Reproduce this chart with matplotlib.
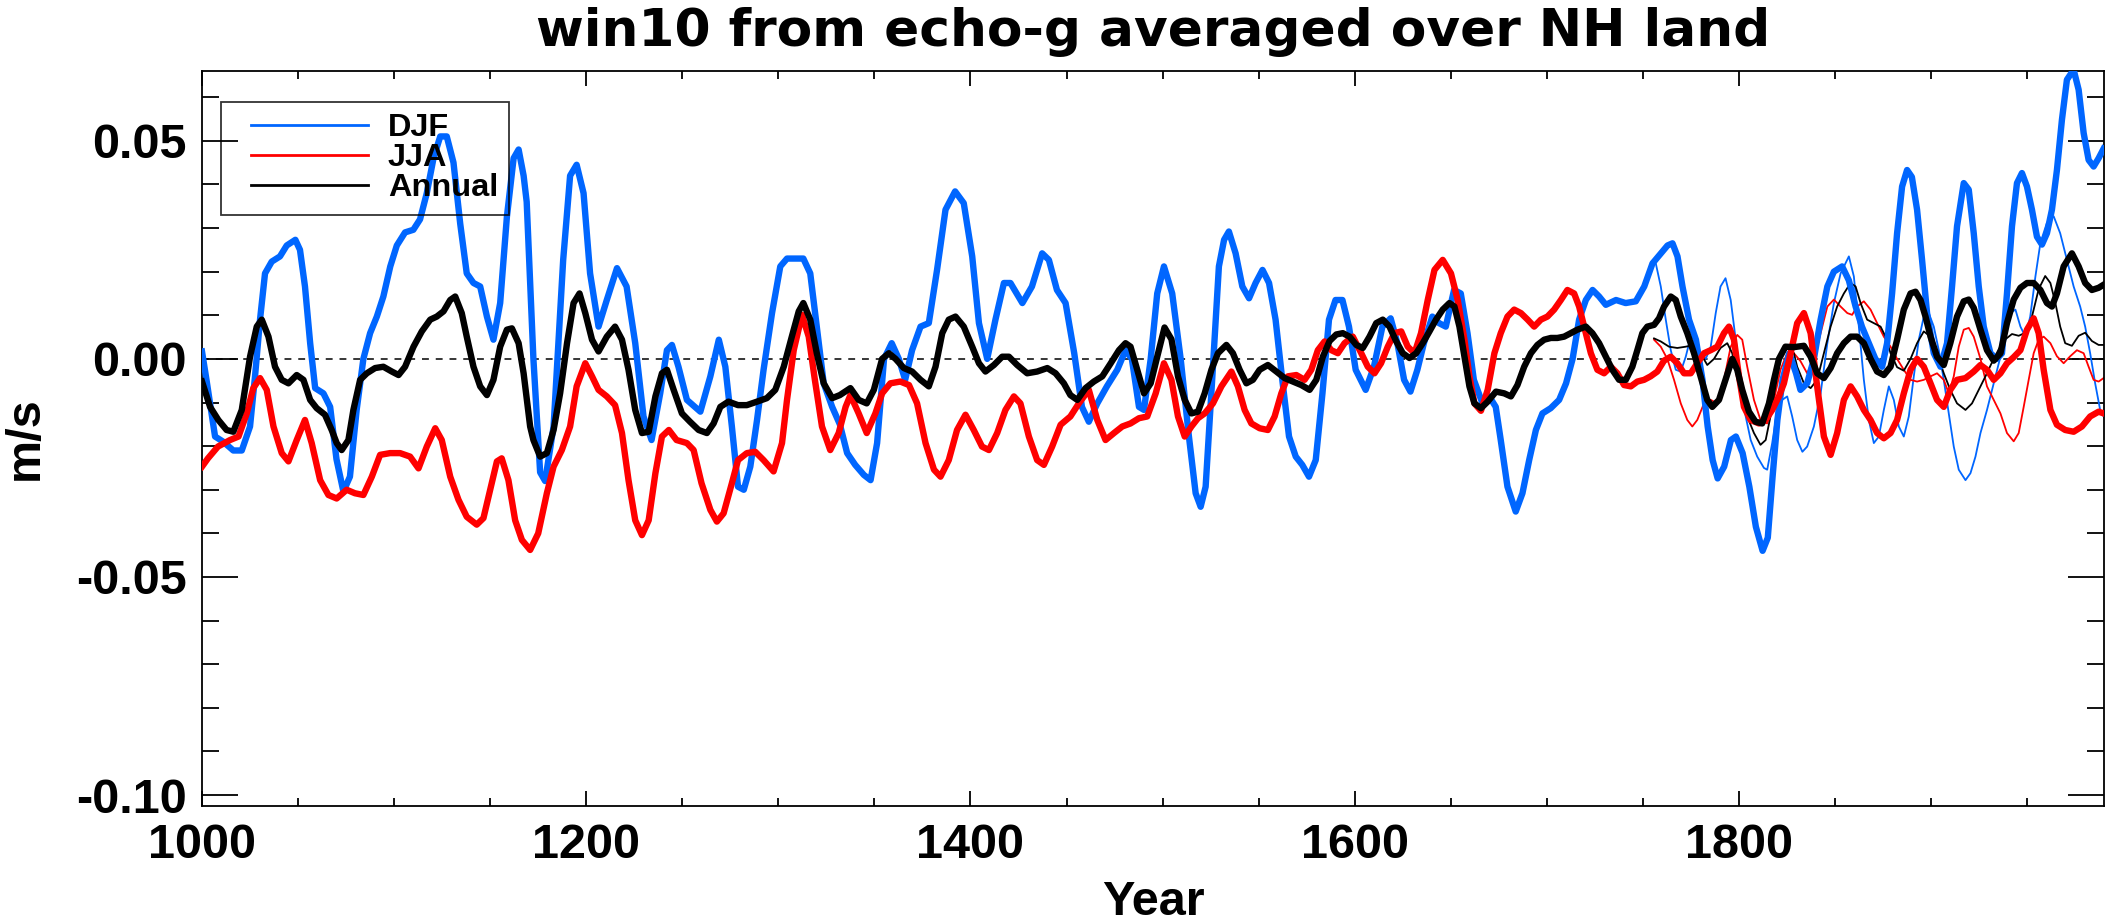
import matplotlib
matplotlib.use("Agg")
import matplotlib.pyplot as plt
from matplotlib.lines import Line2D
from matplotlib.legend_handler import HandlerLine2D
from matplotlib.ticker import MultipleLocator, FormatStrFormatter

plt.rcParams['axes.unicode_minus'] = False

# ---------------- data ----------------
djf_years = [1000, 1002.4, 1006.8, 1011.1, 1016.3, 1020.7, 1025, 1027.6, 1030.2, 1032.8, 1036.3, 1040.6, 1044.1,
             1048.6, 1051, 1053.6, 1056.3, 1058.9, 1063.2, 1066.7, 1070, 1073.6, 1077, 1080.5, 1084, 1087.5, 1091,
             1094.4, 1098, 1101.4, 1105.7, 1110, 1113.5, 1117, 1120.5, 1124, 1127.4, 1130.9, 1134.4, 1137.8, 1141.3,
             1144.8, 1148.3, 1151.7, 1155.2, 1158.7, 1162.2, 1164.8, 1167.4, 1169, 1172.5, 1176, 1178.6, 1183, 1188,
             1191.6, 1195, 1198.6, 1202, 1206.4, 1210.7, 1216, 1221, 1225.5, 1229.8, 1234, 1238.5, 1242, 1244.6,
             1248, 1252.4, 1259.4, 1264.6, 1269, 1272.4, 1275.8, 1279, 1282, 1285.4, 1288.9, 1292.3, 1296.7, 1301,
             1304.5, 1309.7, 1313, 1316.6, 1320, 1323.6, 1328, 1332, 1335.8, 1340, 1344.5, 1348, 1351.4, 1355, 1359,
             1362.7, 1366, 1369.6, 1374, 1378.3, 1382.6, 1387, 1392, 1396.5, 1400.9, 1404.4, 1408.7, 1413, 1417.4,
             1420.8, 1427, 1432, 1437.3, 1440.8, 1445, 1449.5, 1454, 1458, 1461.6, 1466, 1471, 1476.4, 1480.7, 1484,
             1487.7, 1490.3, 1493.8, 1497.2, 1500.7, 1505, 1509.4, 1513.7, 1517.2, 1519.8, 1522.4, 1525.9, 1529.3,
             1532, 1534.5, 1538, 1541.5, 1545, 1548.4, 1552, 1555.4, 1558.8, 1562.3, 1565.8, 1569.3, 1572.7, 1576.2,
             1579.7, 1583.2, 1586.6, 1590, 1593.6, 1597, 1600.5, 1605.7, 1610, 1614.4, 1618.7, 1622.2, 1625.7, 1629,
             1632.6, 1636, 1640.4, 1643.9, 1647.4, 1651.7, 1655.2, 1658.7, 1662, 1666.5, 1670, 1673.4, 1676, 1679.5,
             1683.8, 1687.3, 1690.8, 1694.3, 1697.7, 1702, 1706.4, 1710, 1713.4, 1716.8, 1720.3, 1723.8, 1727.2,
             1730.7, 1736, 1741, 1746.3, 1750.7, 1755, 1759.4, 1762.8, 1765.4, 1768, 1770.6, 1774, 1777.6, 1781,
             1783.7, 1786.3, 1788.9, 1792.3, 1795.8, 1798.4, 1801.9, 1805.4, 1808.8, 1812.3, 1815, 1817.5, 1820,
             1822.7, 1826.2, 1829.7, 1832, 1835.5, 1839, 1842.5, 1846, 1849.4, 1853.7, 1857.2, 1860.7, 1864, 1867.6,
             1871, 1874.5, 1877.1, 1879.7, 1882.3, 1884.9, 1887.5, 1890, 1892.7, 1895.3, 1897.9, 1901.4, 1904.9,
             1908.3, 1910.9, 1913.5, 1917, 1919.6, 1922.2, 1924.8, 1927.4, 1930.9, 1934.3, 1936.9, 1939.5, 1942.1,
             1944.7, 1947.3, 1949.9, 1952.5, 1955.1, 1957.7, 1960.3, 1962.9, 1965.5, 1968.1, 1970.7, 1974.2, 1976.8,
             1979.4, 1982, 1984.6, 1987.2, 1989.8]
djf_vals = [0.0017, -0.005, -0.0178, -0.019, -0.021, -0.021, -0.0155, -0.004, 0.009, 0.0196, 0.0223, 0.0235, 0.026,
            0.0273, 0.025, 0.0166, 0.0036, -0.0067, -0.0079, -0.011, -0.023, -0.0304, -0.027, -0.0117, 0.0, 0.0059,
            0.0097, 0.0143, 0.0212, 0.026, 0.029, 0.0296, 0.032, 0.038, 0.046, 0.051, 0.051, 0.045, 0.031, 0.0196,
            0.0174, 0.0166, 0.0097, 0.0044, 0.0128, 0.0326, 0.046, 0.048, 0.042, 0.036, 0.0, -0.026, -0.028, -0.0155,
            0.0227, 0.042, 0.0445, 0.038, 0.0196, 0.0074, 0.0135, 0.0208, 0.0166, 0.0036, -0.0132, -0.0186, -0.0079,
            0.002, 0.0032, -0.0018, -0.0094, -0.0121, -0.004, 0.0044, -0.0018, -0.0155, -0.0293, -0.030, -0.0247,
            -0.014, -0.0025, 0.0105, 0.0212, 0.023, 0.023, 0.023, 0.0196, 0.0074, -0.0056, -0.011, -0.015, -0.0216,
            -0.0243, -0.0266, -0.0278, -0.0193, 0.0, 0.0036, 0.0, -0.0048, 0.002, 0.0074, 0.0082, 0.0204, 0.0342,
            0.0384, 0.0357, 0.0235, 0.0082, 0.0, 0.009, 0.0174, 0.0174, 0.0128, 0.0166, 0.0242, 0.0227, 0.0158,
            0.0128, 0.0013, -0.011, -0.0144, -0.0102, -0.0063, -0.0025, 0.002, 0.0, -0.011, -0.0117, 0.0, 0.015,
            0.0212, 0.015, 0.0, -0.0178, -0.0308, -0.0339, -0.0293, -0.004, 0.0212, 0.0273, 0.0292, 0.0242, 0.0166,
            0.0139, 0.0174, 0.0204, 0.0174, 0.009, -0.0048, -0.0178, -0.0224, -0.0243, -0.027, -0.0232, -0.0079,
            0.009, 0.0135, 0.0135, 0.0074, -0.0025, -0.0071, -0.0018, 0.0074, 0.0093, 0.0036, -0.0048, -0.0075,
            -0.0025, 0.0036, 0.0097, 0.0082, 0.0074, 0.0158, 0.015, 0.0059, -0.0048, -0.0102, -0.0086, -0.011,
            -0.0186, -0.0293, -0.035, -0.0308, -0.0232, -0.0163, -0.0125, -0.0113, -0.0094, -0.0056, 0.0, 0.009,
            0.0135, 0.0158, 0.0143, 0.0124, 0.0135, 0.0128, 0.0132, 0.0166, 0.0219, 0.0242, 0.026, 0.0265, 0.0235,
            0.0166, 0.009, 0.0044, -0.0048, -0.0155, -0.0232, -0.0274, -0.0247, -0.0186, -0.0178, -0.0216, -0.0293,
            -0.0385, -0.044, -0.041, -0.027, -0.014, -0.0048, 0.0013, -0.0033, -0.0071, -0.0056, 0.0, 0.009, 0.0166,
            0.02, 0.0212, 0.018, 0.012, 0.0074, 0.0036, 0.0, -0.0018, 0.0036, 0.015, 0.0288, 0.0395, 0.0433, 0.0417,
            0.0342, 0.0227, 0.0105, 0.0013, -0.0018, 0.0036, 0.0166, 0.0304, 0.0403, 0.0388, 0.0288, 0.0166, 0.0074,
            0.0013, 0.0, 0.0013, 0.015, 0.0304, 0.0403, 0.0426, 0.0395, 0.0342, 0.028, 0.0262, 0.0288, 0.0342,
            0.0433, 0.0548, 0.064, 0.0663, 0.0617, 0.0518, 0.0456, 0.0441, 0.046, 0.0482]

jja_years = [1000, 1003.1, 1008.3, 1014.6, 1019, 1023.3, 1026.7, 1030.2, 1033.7, 1037.2, 1041.5, 1045, 1049.3,
             1053.6, 1057.1, 1061.5, 1065.8, 1070.1, 1075.3, 1079.6, 1084, 1088.4, 1092.7, 1097.9, 1103.1, 1108.3,
             1112.7, 1117, 1121.4, 1124.8, 1129.2, 1133.5, 1137.8, 1143, 1146.5, 1150, 1153.5, 1156, 1159.5, 1163,
             1166.5, 1170.8, 1175, 1179.5, 1183, 1187.3, 1191.6, 1195, 1199.5, 1203, 1206.4, 1210.7, 1215, 1218.6,
             1222, 1225.5, 1229, 1232.5, 1236, 1239.4, 1243, 1247, 1252.4, 1255.9, 1260, 1264.6, 1268, 1271.5,
             1275.8, 1279, 1283.6, 1288, 1292.3, 1297.5, 1301.9, 1304.5, 1308, 1312.3, 1315.8, 1319, 1322.7, 1327,
             1331.4, 1335, 1337.5, 1341.8, 1346, 1350.5, 1354, 1358.3, 1363.5, 1368, 1372.2, 1376.6, 1381, 1384.4,
             1388.7, 1393, 1397.4, 1401.7, 1406, 1409.6, 1413.9, 1418.2, 1422.6, 1426, 1430.4, 1434.7, 1438.2,
             1442.5, 1446.9, 1452, 1456.4, 1461.6, 1466, 1470.3, 1474.7, 1479, 1483.3, 1487.7, 1492, 1496.4, 1500.7,
             1504.6, 1508, 1511.5, 1515, 1518.4, 1521.9, 1526.2, 1530.6, 1535.8, 1539.2, 1542.7, 1546.2, 1550.5,
             1554.8, 1558.3, 1561.8, 1565.2, 1569.6, 1573.9, 1577.4, 1580.8, 1584.3, 1587.8, 1591.2, 1594.7, 1599,
             1603.4, 1606.8, 1610.3, 1613.7, 1617.2, 1620.7, 1624.2, 1627.6, 1631.1, 1634.5, 1638, 1641.5, 1645.8,
             1650.1, 1653.6, 1657.1, 1659.7, 1662.3, 1665.7, 1669.2, 1672.7, 1676, 1679.5, 1683, 1686.5, 1690,
             1693.4, 1696.9, 1700.3, 1703.8, 1707.3, 1710.7, 1714.2, 1716.8, 1719.4, 1722.9, 1726.3, 1729.8, 1733.3,
             1736.7, 1740.2, 1743.7, 1747.1, 1750.6, 1754, 1757.5, 1761, 1764.5, 1767.9, 1771.4, 1774.9, 1778.3,
             1781.8, 1785.3, 1788.7, 1792.2, 1794.8, 1797.4, 1800, 1802.6, 1806, 1810.4, 1813.9, 1817.3, 1820.8,
             1823.4, 1826.9, 1830.3, 1833.8, 1837.3, 1840.7, 1844.2, 1847.7, 1851.1, 1854.6, 1858.1, 1861.5, 1865,
             1868.5, 1871.9, 1875.4, 1878.9, 1882.3, 1885.8, 1889.3, 1892.7, 1896.2, 1899.7, 1903.1, 1906.6, 1910,
             1913.5, 1917.9, 1922.2, 1925.7, 1929.1, 1932.6, 1936.1, 1939.5, 1943, 1946.5, 1949.9, 1953.4, 1956,
             1958.6, 1962.1, 1965.5, 1969.8, 1974.2, 1978.5, 1982.8, 1987.2, 1989.8]
jja_vals = [-0.0247, -0.0228, -0.0201, -0.0186, -0.0178, -0.0125, -0.0067, -0.0044, -0.0071, -0.0155, -0.0216,
            -0.0235, -0.0186, -0.014, -0.0193, -0.0278, -0.0312, -0.032, -0.030, -0.0308, -0.0312, -0.027, -0.022,
            -0.0216, -0.0216, -0.0224, -0.0251, -0.0201, -0.0159, -0.0186, -0.027, -0.0323, -0.0362, -0.038,
            -0.0365, -0.030, -0.0235, -0.0228, -0.0278, -0.037, -0.0415, -0.0438, -0.040, -0.0308, -0.0247, -0.0209,
            -0.0155, -0.0063, -0.001, -0.004, -0.0071, -0.0086, -0.0106, -0.017, -0.0278, -0.037, -0.0404, -0.037,
            -0.0262, -0.0178, -0.0163, -0.0186, -0.0193, -0.0209, -0.0285, -0.0346, -0.0373, -0.0354, -0.0285,
            -0.0232, -0.0216, -0.0213, -0.0232, -0.0258, -0.0193, -0.0094, 0.002, 0.0101, 0.0051, -0.0048, -0.0155,
            -0.0209, -0.017, -0.011, -0.0083, -0.0125, -0.017, -0.0125, -0.0079, -0.0056, -0.0052, -0.006, -0.0102,
            -0.0193, -0.0254, -0.027, -0.0232, -0.0163, -0.0128, -0.0163, -0.0201, -0.0209, -0.017, -0.0117,
            -0.0086, -0.0102, -0.0178, -0.0232, -0.0243, -0.0201, -0.0151, -0.0132, -0.0102, -0.0071, -0.014,
            -0.0186, -0.017, -0.0155, -0.0148, -0.0136, -0.0132, -0.0079, -0.001, -0.0048, -0.0132, -0.0178,
            -0.0155, -0.0136, -0.0125, -0.0102, -0.0063, -0.0029, -0.0063, -0.0117, -0.0148, -0.0159, -0.0163,
            -0.0132, -0.0079, -0.004, -0.0037, -0.0048, -0.0025, 0.002, 0.004, 0.002, 0.0013, 0.0036, 0.0051,
            0.0013, -0.0018, -0.0033, -0.001, 0.0028, 0.0059, 0.0063, 0.0028, 0.0013, 0.0059, 0.0135, 0.0204,
            0.0227, 0.0196, 0.0135, 0.0044, -0.004, -0.0102, -0.0119, -0.0071, 0.0013, 0.0059, 0.0097, 0.0113,
            0.0105, 0.009, 0.0074, 0.009, 0.0097, 0.0113, 0.0135, 0.0158, 0.015, 0.012, 0.0074, 0.0013, -0.0025,
            -0.0033, -0.0018, -0.0033, -0.006, -0.0063, -0.0052, -0.0048, -0.004, -0.0029, -0.0004, 0.0005, -0.001,
            -0.0033, -0.0033, -0.001, 0.0013, 0.002, 0.0028, 0.0059, 0.0074, 0.0044, -0.004, -0.011, -0.014,
            -0.0148, -0.014, -0.0117, -0.0086, -0.0056, 0.0013, 0.0082, 0.0105, 0.0059, -0.0063, -0.0178, -0.022,
            -0.017, -0.0094, -0.0063, -0.0086, -0.0117, -0.014, -0.017, -0.0182, -0.017, -0.014, -0.0079, -0.0025,
            0.0, -0.0018, -0.0056, -0.0094, -0.011, -0.0071, -0.0048, -0.0044, -0.0029, -0.0014, -0.0025, -0.0048,
            -0.0033, -0.001, 0.0004, 0.002, 0.0067, 0.0093, 0.0059, -0.0025, -0.0117, -0.0151, -0.0163, -0.0167,
            -0.0155, -0.0132, -0.0121, -0.0125]

ann_years = [1000, 1004.2, 1008.5, 1012.8, 1016.3, 1020.7, 1025, 1028.5, 1031.1, 1034.6, 1038, 1041.5, 1045,
             1049.3, 1052.8, 1056.3, 1059.7, 1064, 1067.5, 1070.1, 1072.7, 1076.2, 1078.8, 1082.3, 1085.8, 1090.1,
             1094.4, 1098.8, 1102.3, 1105.7, 1110.1, 1114.4, 1118.8, 1122.2, 1125.7, 1129.2, 1131.8, 1135.2, 1137.8,
             1141.3, 1144.8, 1148.3, 1151.7, 1155.2, 1158.7, 1161.3, 1164.8, 1167.4, 1170.8, 1172.5, 1176, 1179.5,
             1183, 1186.4, 1190, 1193.4, 1196.5, 1199.5, 1203, 1206.4, 1210.7, 1215, 1218.6, 1222, 1225.5, 1229,
             1232.5, 1236, 1239.4, 1242, 1245.5, 1249.8, 1254, 1258.5, 1262.8, 1266.3, 1269.8, 1274, 1279, 1283.6,
             1288.9, 1294, 1298.4, 1302.8, 1307, 1310.6, 1313, 1316.6, 1320, 1323.6, 1328, 1332, 1337.5, 1341.8,
             1346, 1349.7, 1354, 1357.5, 1361, 1365.3, 1369.6, 1374, 1378.3, 1381.8, 1385.3, 1388.7, 1392.2, 1396.5,
             1400.9, 1404.4, 1407.8, 1412.2, 1416.5, 1420, 1424.3, 1429.5, 1434.7, 1440, 1444.3, 1448.6, 1452,
             1455.6, 1459.9, 1464.2, 1468.6, 1473, 1477.3, 1480.7, 1483.3, 1486.8, 1490.3, 1493.8, 1497.2, 1501,
             1504.6, 1508, 1511.5, 1515, 1518.4, 1521.9, 1525.4, 1528.8, 1533.2, 1536.6, 1540.1, 1543.6, 1547,
             1550.5, 1554.8, 1559.2, 1563.5, 1567.8, 1572.2, 1576.5, 1580, 1583.4, 1586.9, 1590.4, 1593.8, 1597.3,
             1600.8, 1604.2, 1607.7, 1611.2, 1614.6, 1618.1, 1621.5, 1625, 1628.5, 1632, 1635.4, 1638.9, 1642.3,
             1645.8, 1649.3, 1651.9, 1654.5, 1657.1, 1659.7, 1662.3, 1665.7, 1669.2, 1673.5, 1677.8, 1681.3, 1684.7,
             1688.2, 1691.7, 1695.1, 1698.6, 1702.1, 1705.5, 1709, 1712.5, 1715.9, 1720.3, 1723.7, 1727.2, 1730.7,
             1734.1, 1737.6, 1741.1, 1744.5, 1747.1, 1749.7, 1752.3, 1755.8, 1758.4, 1761, 1764.5, 1767.1, 1769.7,
             1773.1, 1776.6, 1780, 1783.5, 1786.1, 1789.6, 1793, 1796.5, 1799.1, 1801.7, 1805.2, 1808.6, 1812.1,
             1815.6, 1818.2, 1820.8, 1824.2, 1828.6, 1833.8, 1837.3, 1840.7, 1844.2, 1847.7, 1851.1, 1854.6, 1858.1,
             1861.5, 1865, 1868.5, 1871.9, 1875.4, 1878.9, 1882.3, 1885.8, 1889.3, 1891.9, 1894.5, 1897.1, 1899.7,
             1903.1, 1906.6, 1910, 1913.5, 1917, 1919.6, 1922.2, 1925.7, 1929.1, 1932.6, 1936.1, 1939.5, 1943,
             1946.5, 1949.9, 1953.4, 1956.9, 1960.3, 1962.9, 1965.5, 1969, 1973.3, 1976.8, 1980.2, 1983.7, 1987.2,
             1989.8]
ann_vals = [-0.0052, -0.011, -0.014, -0.0163, -0.0167, -0.0117, 0.0005, 0.0074, 0.009, 0.0051, -0.0018, -0.0048,
            -0.0056, -0.0037, -0.0048, -0.0094, -0.0113, -0.0128, -0.0163, -0.0193, -0.0209, -0.0186, -0.0117,
            -0.0048, -0.0033, -0.0021, -0.0018, -0.0029, -0.0037, -0.0018, 0.0028, 0.0063, 0.009, 0.0097, 0.0109,
            0.0135, 0.0143, 0.0105, 0.0051, -0.0018, -0.0063, -0.0083, -0.0048, 0.0028, 0.0067, 0.007, 0.0036,
            -0.0033, -0.0155, -0.0186, -0.0224, -0.0216, -0.0163, -0.0079, 0.0036, 0.0128, 0.015, 0.0105, 0.0044,
            0.0017, 0.0051, 0.0074, 0.0044, -0.0025, -0.0117, -0.017, -0.0167, -0.0086, -0.0033, -0.0025, -0.0071,
            -0.0125, -0.0144, -0.0163, -0.017, -0.0148, -0.011, -0.0098, -0.0106, -0.0106, -0.0098, -0.009, -0.0071,
            -0.0018, 0.0051, 0.0109, 0.0128, 0.009, 0.0013, -0.0056, -0.009, -0.0083, -0.0067, -0.0094, -0.0102,
            -0.0071, 0.0, 0.0013, 0.0, -0.0021, -0.0029, -0.0048, -0.0063, -0.0018, 0.0059, 0.009, 0.0097, 0.0074,
            0.0028, -0.001, -0.0029, -0.0014, 0.0005, 0.0005, -0.0014, -0.0033, -0.0029, -0.0021, -0.0033, -0.0056,
            -0.0083, -0.0094, -0.0067, -0.0052, -0.004, -0.001, 0.002, 0.0036, 0.0028, -0.0025, -0.0079, -0.0056,
            0.0005, 0.0072, 0.0045, -0.004, -0.0094, -0.0125, -0.0121, -0.0079, -0.0025, 0.0013, 0.0032, 0.0013,
            -0.0025, -0.0056, -0.0048, -0.0025, -0.0014, -0.0029, -0.0044, -0.0052, -0.006, -0.0071, -0.0048,
            0.0005, 0.0041, 0.0056, 0.0059, 0.0051, 0.0032, 0.0025, 0.0051, 0.0082, 0.009, 0.0074, 0.0041, 0.0013,
            0.0002, 0.0013, 0.0036, 0.0063, 0.009, 0.0113, 0.0128, 0.012, 0.0074, 0.0005, -0.0063, -0.0102, -0.0113,
            -0.0098, -0.0075, -0.0079, -0.0086, -0.006, -0.0018, 0.0013, 0.0032, 0.0044, 0.0048, 0.0048, 0.0051,
            0.0059, 0.0067, 0.0074, 0.0059, 0.0036, 0.0005, -0.0025, -0.0048, -0.0048, -0.0018, 0.002, 0.0059,
            0.0074, 0.0078, 0.0093, 0.012, 0.0143, 0.0135, 0.0097, 0.0059, 0.0013, -0.004, -0.0094, -0.011, -0.0094,
            -0.0048, 0.0, -0.0025, -0.0071, -0.0121, -0.0144, -0.0148, -0.0102, -0.0048, 0.0, 0.0028, 0.0027, 0.003,
            0.0005, -0.0033, -0.0044, -0.0021, 0.0013, 0.0036, 0.0051, 0.0051, 0.0036, 0.0, -0.0029, -0.0037,
            -0.0018, 0.0044, 0.0113, 0.015, 0.0154, 0.0135, 0.0097, 0.0051, 0.0005, -0.0014, 0.0036, 0.0097, 0.0132,
            0.0136, 0.0117, 0.0067, 0.002, -0.0004, 0.0013, 0.0082, 0.0136, 0.0163, 0.0174, 0.0174, 0.0158, 0.0128,
            0.012, 0.015, 0.0212, 0.0242, 0.0212, 0.0174, 0.0158, 0.0163, 0.017]

# second (thin) set of curves, late period only
djf2_years = [1756.7, 1759.3, 1761.9, 1764.5, 1767.1, 1769.7, 1772.3, 1774.9, 1777.4, 1780, 1782.7, 1785.3, 1787.9,
              1790.4, 1793, 1795.7, 1798.3, 1800.9, 1803.5, 1806.1, 1809.5, 1813, 1814.7, 1817.3, 1819.9, 1822.5,
              1825.1, 1827.7, 1830.3, 1833, 1835.5, 1839, 1842.5, 1846, 1849.4, 1852.9, 1857.2, 1859.8, 1862.4,
              1865, 1867.6, 1870.2, 1872.8, 1875.4, 1878, 1880.6, 1883.2, 1885.8, 1888.4, 1891, 1893.6, 1896.2,
              1898.8, 1901.4, 1904, 1906.6, 1909.2, 1911.8, 1914.4, 1917.9, 1920.5, 1923.1, 1925.7, 1929.1, 1932.6,
              1936.1, 1938.7, 1941.3, 1943.9, 1946.5, 1949.1, 1951.6, 1954.3, 1956.9, 1960.3, 1963.8, 1967.2,
              1970.7, 1974.2, 1977.6, 1980.2, 1982.8, 1985.4, 1988, 1989.8]
djf2_vals = [0.0219, 0.0166, 0.009, 0.002, -0.0025, -0.0029, 0.0005, 0.0051, 0.0044, 0.0013, 0.0, 0.0028, 0.0105,
             0.0166, 0.0185, 0.0135, 0.0044, -0.0048, -0.0132, -0.0186, -0.0224, -0.025, -0.0254, -0.0193, -0.0117,
             -0.0094, -0.0086, -0.0132, -0.0186, -0.0213, -0.0201, -0.0155, -0.0079, 0.0036, 0.0128, 0.0196, 0.0235,
             0.0189, 0.0074, -0.0048, -0.014, -0.0193, -0.0178, -0.0117, -0.0063, -0.0094, -0.0155, -0.0178, -0.0132,
             -0.004, 0.0044, 0.0097, 0.0105, 0.0074, 0.002, -0.0048, -0.0125, -0.0201, -0.0254, -0.0278, -0.0262,
             -0.0224, -0.017, -0.0117, -0.0056, 0.0005, 0.0059, 0.0105, 0.0113, 0.0074, 0.0051, 0.0097, 0.0189,
             0.0266, 0.0312, 0.0327, 0.0288, 0.0227, 0.0166, 0.012, 0.0074, 0.0013, -0.0056, -0.0117, -0.0132]

jja2_years = [1755.8, 1759.3, 1762.7, 1766.2, 1769.7, 1773.1, 1775.7, 1778.3, 1781.8, 1785.3, 1788.7, 1792.2,
              1795.7, 1799.1, 1801.7, 1804.3, 1807.8, 1811.2, 1814.7, 1818.2, 1821.6, 1825.1, 1828.6, 1832, 1835.5,
              1839, 1842.5, 1846, 1849.4, 1852.9, 1856.4, 1858.9, 1861.5, 1865, 1868.5, 1871.9, 1875.4, 1878.9,
              1882.3, 1885.8, 1889.3, 1892.7, 1896.2, 1899.7, 1903.1, 1906.6, 1909.2, 1911.8, 1914.4, 1917, 1919.6,
              1922.2, 1925.7, 1929.1, 1932.6, 1936.1, 1939.5, 1943, 1945.6, 1948.2, 1950.8, 1953.4, 1956, 1958.6,
              1962.1, 1965.5, 1969, 1972.4, 1975.9, 1979.4, 1982, 1984.6, 1987.2, 1989.8]
jja2_vals = [0.0044, 0.0028, 0.0, -0.0048, -0.0102, -0.014, -0.0155, -0.014, -0.0102, -0.0094, -0.0102, -0.0048,
             0.0028, 0.0055, 0.0044, -0.0018, -0.0094, -0.014, -0.0148, -0.0094, -0.0025, 0.0013, 0.0013, -0.0005,
             -0.0033, 0.0, 0.0059, 0.012, 0.0136, 0.012, 0.0105, 0.0101, 0.012, 0.0132, 0.0113, 0.0082, 0.0051,
             0.0028, 0.0, -0.0025, -0.0048, -0.0052, -0.0048, -0.004, -0.0033, -0.0048, -0.0079, -0.004, 0.0028,
             0.0067, 0.0071, 0.0051, 0.0, -0.0063, -0.0094, -0.0125, -0.017, -0.0189, -0.017, -0.011, -0.0048, 0.0013,
             0.0044, 0.0051, 0.0036, 0.0006, -0.001, 0.0006, 0.002, 0.0013, -0.0018, -0.0048, -0.0052, -0.0044]

ann2_years = [1755.8, 1759.3, 1763.6, 1767.9, 1772.3, 1776.6, 1780, 1783.5, 1787, 1790.4, 1793.9, 1796.5, 1799.1,
              1801.7, 1804.3, 1807.8, 1811.2, 1813.9, 1816.4, 1819, 1821.6, 1825.1, 1828.6, 1830.3, 1833.8, 1837.3,
              1840.7, 1844.2, 1847.7, 1851.1, 1854.6, 1858.1, 1860.7, 1863.3, 1866.7, 1870.2, 1873.7, 1876.3, 1878.9,
              1882.3, 1885.8, 1889.3, 1892.7, 1896.2, 1899.7, 1903.1, 1906.6, 1910, 1913.5, 1917.9, 1921.3, 1924.8,
              1928.3, 1931.7, 1935.2, 1938.7, 1942.1, 1945.6, 1949.1, 1952.5, 1956, 1959.4, 1962.1, 1964.6, 1967.2,
              1969.8, 1973.3, 1976.8, 1980.2, 1983.7, 1987.2, 1989.8]
ann2_vals = [0.0047, 0.004, 0.0028, 0.0025, 0.0028, 0.0032, 0.0013, -0.0014, 0.0, 0.0025, 0.0036, 0.0013, -0.004,
             -0.0094, -0.0132, -0.017, -0.0197, -0.0186, -0.0132, -0.0063, 0.0, 0.0028, 0.0013, -0.0018, -0.0056,
             -0.0067, -0.0048, 0.0013, 0.0074, 0.012, 0.015, 0.0174, 0.0166, 0.0128, 0.009, 0.0082, 0.0074, 0.0051,
             0.0013, -0.0019, -0.0027, 0.0, 0.0036, 0.0063, 0.0051, 0.0013, -0.0033, -0.0071, -0.0102, -0.0117,
             -0.0102, -0.0071, -0.004, -0.0008, 0.0022, 0.0045, 0.0057, 0.0053, 0.006, 0.0097, 0.016, 0.019, 0.0174,
             0.013, 0.0074, 0.0036, 0.003, 0.0053, 0.006, 0.0041, 0.0032, 0.0032]

series_labels = ["DJF", "JJA", "Annual"]
title_text = "win10 from echo-g averaged over NH land"
x_label = "Year"
y_label = "m/s"

# ---------------- styling ----------------
BLUE = "#0066ff"
RED = "#ff0000"
BLACK = "#000000"
FONT = "Liberation Sans"

fig = plt.figure(figsize=(21.08, 9.23), dpi=100)
ax = fig.add_axes([202 / 2108, 1 - 806 / 923, (2104 - 202) / 2108, (806 - 71) / 923])

thick = 4.6
thin = 1.3
ax.plot(djf2_years, djf2_vals, color=BLUE, lw=thin, solid_joinstyle='round', zorder=2)
ax.plot(jja2_years, jja2_vals, color=RED, lw=thin, solid_joinstyle='round', zorder=2)
ax.plot(ann2_years, ann2_vals, color=BLACK, lw=thin, solid_joinstyle='round', zorder=2)
ax.plot(djf_years, djf_vals, color=BLUE, lw=thick, solid_joinstyle='round', zorder=3)
ax.plot(jja_years, jja_vals, color=RED, lw=thick, solid_joinstyle='round', zorder=4)
ax.plot(ann_years, ann_vals, color=BLACK, lw=thick, solid_joinstyle='round', zorder=5)

ax.axhline(0.0, color='black', lw=1.1, linestyle=(0, (4.5, 4.5)), zorder=1)

ax.set_xlim(1000, 1990)
ax.set_ylim(-0.1025, 0.066)

ax.xaxis.set_major_locator(MultipleLocator(200))
ax.xaxis.set_minor_locator(MultipleLocator(50))
ax.yaxis.set_major_locator(MultipleLocator(0.05))
ax.yaxis.set_minor_locator(MultipleLocator(0.01))
ax.yaxis.set_major_formatter(FormatStrFormatter('%.2f'))

for s in ax.spines.values():
    s.set_linewidth(1.3)

ax.tick_params(axis='both', which='both', direction='in', top=True, right=True, width=1.3)
ax.tick_params(axis='x', which='major', length=11, pad=12.5)
ax.tick_params(axis='x', which='minor', length=5.5)
ax.tick_params(axis='y', which='major', length=26, pad=11)
ax.tick_params(axis='y', which='minor', length=12.5)

for lab in ax.get_xticklabels() + ax.get_yticklabels():
    lab.set_fontfamily(FONT)
    lab.set_fontweight('bold')
    lab.set_fontsize(35)

ax.set_xlabel(x_label, fontfamily=FONT, fontweight='bold', fontsize=35)
ax.xaxis.set_label_coords(0.5, -0.101)
ax.set_ylabel(y_label, fontfamily=FONT, fontweight='bold', fontsize=35)
ax.yaxis.set_label_coords(-0.081, 0.5)

ax.set_title(title_text, fontfamily="DejaVu Sans", fontweight='bold', fontsize=37.3,
             y=(806 - 46) / 735, pad=0, va='baseline')

handles = [Line2D([], [], color=BLUE, lw=2.0),
           Line2D([], [], color=RED, lw=2.0),
           Line2D([], [], color=BLACK, lw=2.0)]
leg = ax.legend(handles, series_labels, loc='upper left', bbox_to_anchor=(0.01, 0.958),
                borderaxespad=0, frameon=True, fancybox=False, edgecolor='black',
                prop={'family': FONT, 'weight': 'bold', 'size': 23.4},
                handlelength=4.18, handletextpad=0.6, borderpad=0.35, labelspacing=0.0,
                handler_map={Line2D: HandlerLine2D(xpad=0.585)})
leg.get_frame().set_linewidth(1.3)
leg.get_frame().set_facecolor('none')

fig.savefig("out.png", dpi=100)
